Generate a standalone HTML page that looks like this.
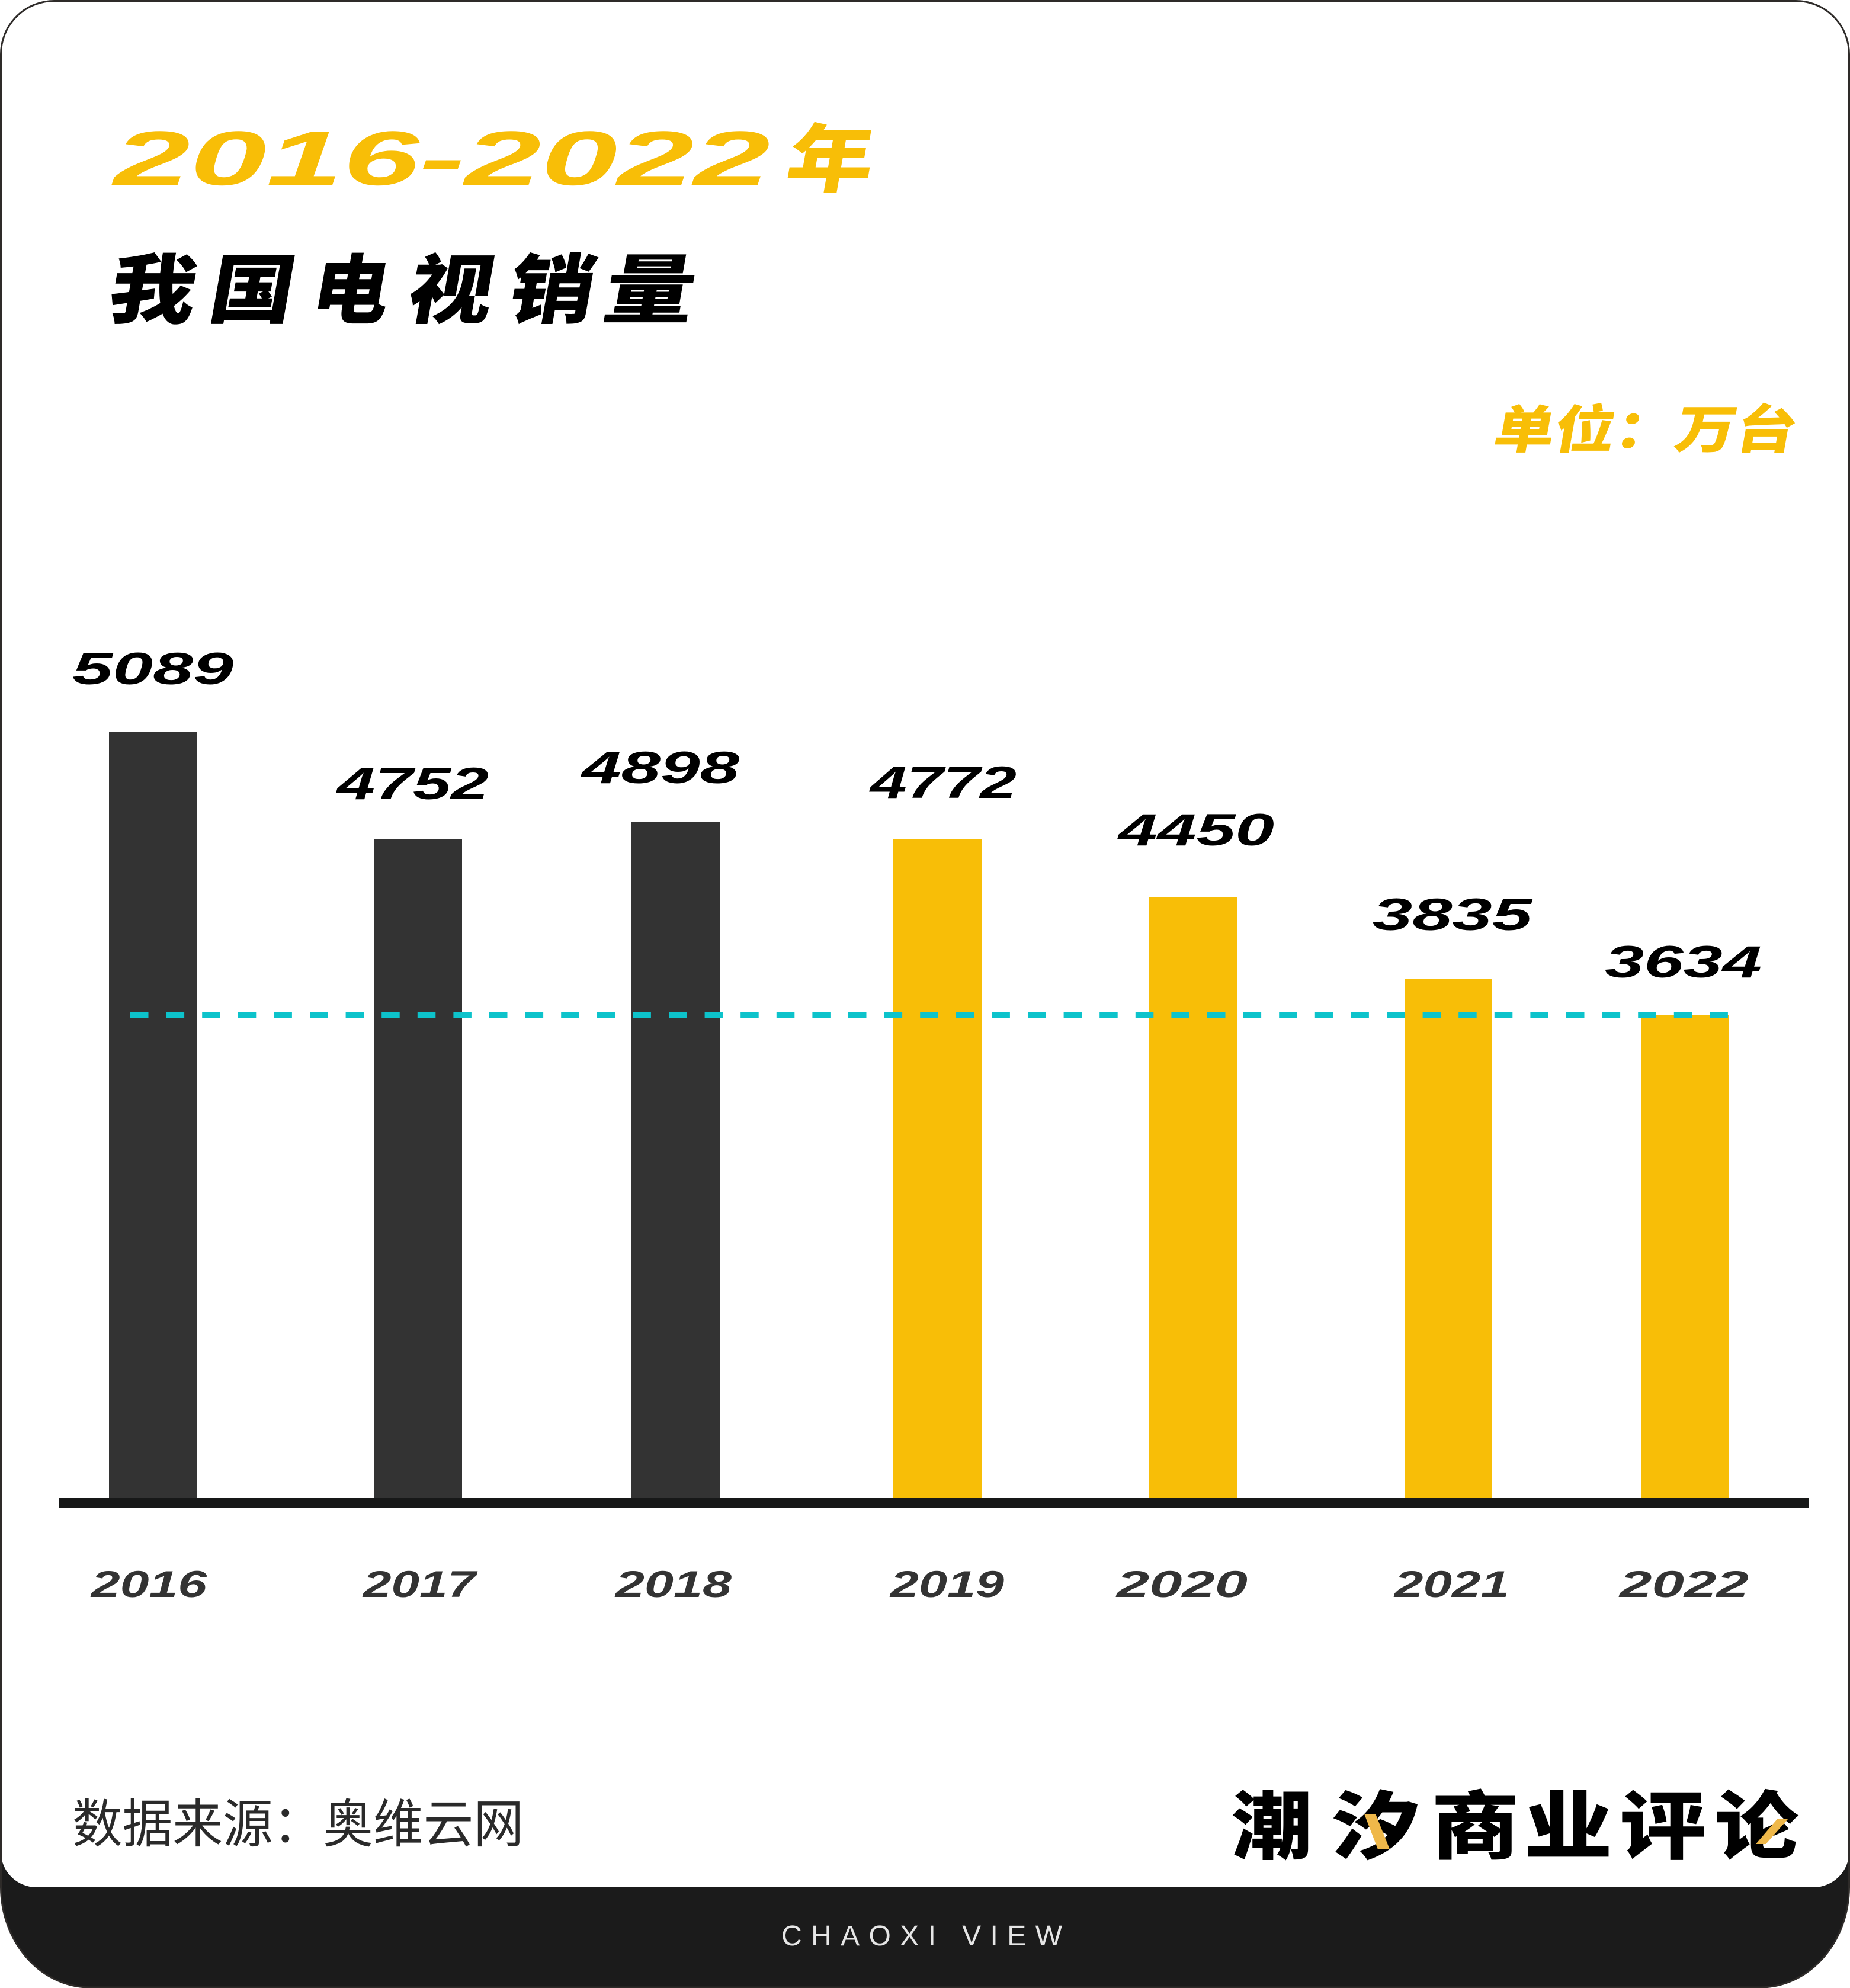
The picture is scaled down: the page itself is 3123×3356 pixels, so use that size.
<!DOCTYPE html>
<html>
<head>
<meta charset="utf-8">
<style>
  html,body{margin:0;padding:0;background:#ffffff;}
  body{width:3123px;height:3356px;overflow:hidden;}
  svg{display:block;}
</style>
</head>
<body>
<svg width="3123" height="3356" viewBox="0 0 3123 3356" xmlns="http://www.w3.org/2000/svg">
  <rect x="0" y="0" width="3123" height="3356" fill="#ffffff"/>
  <!-- outer dark card -->
  <path d="M1.5,91.5 A90,90 0 0 1 91.5,1.5 L3031.5,1.5 A90,90 0 0 1 3121.5,91.5 L3121.5,3186 A150,170 0 0 1 2971.5,3355 L151.5,3355 A150,170 0 0 1 1.5,3186 Z" fill="#1b1b1b"/>
  <!-- inner white panel -->
  <path d="M1.5,91.5 A90,90 0 0 1 91.5,1.5 L3031.5,1.5 A90,90 0 0 1 3121.5,91.5 L3121.5,3126 A60,60 0 0 1 3061.5,3186 L61.5,3186 A60,60 0 0 1 1.5,3126 Z" fill="#ffffff"/>
  <!-- border stroke -->
  <path d="M1.5,91.5 A90,90 0 0 1 91.5,1.5 L3031.5,1.5 A90,90 0 0 1 3121.5,91.5 L3121.5,3186 A150,170 0 0 1 2971.5,3355 L151.5,3355 A150,170 0 0 1 1.5,3186 Z" fill="none" stroke="#2e2b29" stroke-width="3"/>

  <!-- Title -->
  <text x="192" y="312" font-family="'Liberation Sans', sans-serif" font-weight="bold" font-style="italic" font-size="130" fill="#F8BE07" textLength="1108" lengthAdjust="spacingAndGlyphs">2016-2022</text>
  <text transform="translate(1322,314) skewX(-10)" x="0" y="0" font-family="'Liberation Sans','Noto Sans CJK SC', sans-serif" font-weight="900" font-size="126" fill="#F8BE07" textLength="146" lengthAdjust="spacingAndGlyphs">年</text>

  <g font-family="'Liberation Sans','Noto Sans CJK SC', sans-serif" font-weight="900" font-size="128" fill="#000000">
    <text transform="translate(178,535) skewX(-10)" x="0" y="0" textLength="146" lengthAdjust="spacingAndGlyphs">我</text>
    <text transform="translate(348,535) skewX(-10)" x="0" y="0" textLength="142" lengthAdjust="spacingAndGlyphs">国</text>
    <text transform="translate(521,535) skewX(-10)" x="0" y="0" textLength="129" lengthAdjust="spacingAndGlyphs">电</text>
    <text transform="translate(683,535) skewX(-10)" x="0" y="0" textLength="142" lengthAdjust="spacingAndGlyphs">视</text>
    <text transform="translate(853,535) skewX(-10)" x="0" y="0" textLength="144" lengthAdjust="spacingAndGlyphs">销</text>
    <text transform="translate(1014,535) skewX(-10)" x="0" y="0" textLength="152" lengthAdjust="spacingAndGlyphs">量</text>
  </g>

  <text transform="translate(2518,756) skewX(-10)" x="0" y="0" font-family="'Liberation Sans','Noto Sans CJK SC', sans-serif" font-weight="900" font-size="87" fill="#F8BE07" textLength="510" lengthAdjust="spacingAndGlyphs">单位：万台</text>

  <!-- Bars -->
  <rect x="184" y="1235" width="149" height="1300" fill="#333333"/>
  <rect x="632" y="1416" width="148" height="1119" fill="#333333"/>
  <rect x="1066" y="1387" width="149" height="1148" fill="#333333"/>
  <rect x="1508" y="1416" width="149" height="1119" fill="#F8BE07"/>
  <rect x="1940" y="1515" width="148" height="1020" fill="#F8BE07"/>
  <rect x="2371" y="1653" width="148" height="880" fill="#F8BE07"/>
  <rect x="2770" y="1714" width="148" height="821" fill="#F8BE07"/>

  <!-- baseline -->
  <rect x="100" y="2529" width="2954" height="17" fill="#171818"/>

  <!-- dashed average line -->
  <line x1="220" y1="1714" x2="2918" y2="1714" stroke="#0DC3CB" stroke-width="10" stroke-dasharray="30.5 30.1"/>

  <!-- Value labels -->
  <g font-family="'Liberation Sans', sans-serif" font-weight="bold" font-style="italic" font-size="76" fill="#000000">
    <text x="122" y="1155" textLength="272" lengthAdjust="spacingAndGlyphs">5089</text>
    <text x="569" y="1349" textLength="256" lengthAdjust="spacingAndGlyphs">4752</text>
    <text x="982" y="1322" textLength="266" lengthAdjust="spacingAndGlyphs">4898</text>
    <text x="1469" y="1347" textLength="247" lengthAdjust="spacingAndGlyphs">4772</text>
    <text x="1888" y="1427" textLength="263" lengthAdjust="spacingAndGlyphs">4450</text>
    <text x="2317" y="1570" textLength="269" lengthAdjust="spacingAndGlyphs">3835</text>
    <text x="2709" y="1650" textLength="265" lengthAdjust="spacingAndGlyphs">3634</text>
  </g>

  <!-- Year labels -->
  <g font-family="'Liberation Sans', sans-serif" font-weight="bold" font-style="italic" font-size="63" fill="#333333">
    <text x="154" y="2696" textLength="195" lengthAdjust="spacingAndGlyphs">2016</text>
    <text x="613" y="2696" textLength="190" lengthAdjust="spacingAndGlyphs">2017</text>
    <text x="1039" y="2696" textLength="196" lengthAdjust="spacingAndGlyphs">2018</text>
    <text x="1503" y="2696" textLength="192" lengthAdjust="spacingAndGlyphs">2019</text>
    <text x="1885" y="2696" textLength="221" lengthAdjust="spacingAndGlyphs">2020</text>
    <text x="2354" y="2696" textLength="194" lengthAdjust="spacingAndGlyphs">2021</text>
    <text x="2734" y="2696" textLength="218" lengthAdjust="spacingAndGlyphs">2022</text>
  </g>

  <!-- Source -->
  <text x="122" y="3110" font-family="'Liberation Sans','Noto Sans CJK SC', sans-serif" font-size="88" fill="#2a2a2a" textLength="762" lengthAdjust="spacingAndGlyphs">数据来源：奥维云网</text>

  <!-- Logo -->
  <g font-family="'Liberation Sans','Noto Sans CJK SC', sans-serif" font-weight="900" font-size="126" fill="#000000">
    <text x="2079" y="3128" textLength="136" lengthAdjust="spacingAndGlyphs">潮</text>
    <text x="2248" y="3128" textLength="149" lengthAdjust="spacingAndGlyphs">汐</text>
    <text x="2416" y="3128" textLength="149" lengthAdjust="spacingAndGlyphs">商</text>
    <text x="2573" y="3128" textLength="149" lengthAdjust="spacingAndGlyphs">业</text>
    <text x="2734" y="3128" textLength="146" lengthAdjust="spacingAndGlyphs">评</text>
    <text x="2895" y="3128" textLength="141" lengthAdjust="spacingAndGlyphs">论</text>
  </g>
  <polygon points="2303,3062 2322,3062 2346,3122 2326,3122" fill="#EFB84A"/>
  <polygon points="3000,3071 3018,3071 2981,3113 2964,3113" fill="#EFB84A"/>

  <!-- Footer -->
  <text x="1319" y="3284" font-family="'Liberation Sans', sans-serif" font-size="48" fill="#e6e6e6" textLength="474" lengthAdjust="spacing">CHAOXI VIEW</text>
</svg>
</body>
</html>
